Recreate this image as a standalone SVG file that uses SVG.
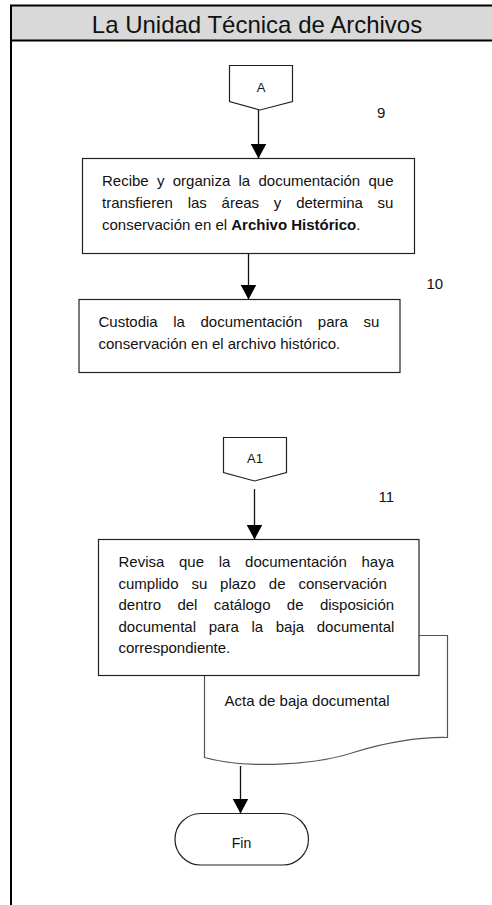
<svg xmlns="http://www.w3.org/2000/svg" width="492" height="905" viewBox="0 0 492 905">
<style>
text{font-family:"Liberation Sans",Arial,sans-serif;fill:#111;}
.t{font-size:15px;}
.num{font-size:15px;}
.box{fill:#fff;stroke:#222;stroke-width:1.2;}
.doc{fill:#fff;stroke:#555;stroke-width:1.2;}
.conn{fill:#fff;stroke:#222;stroke-width:1.2;}
.edge{stroke:#111;stroke-width:1.3;fill:none;marker-end:url(#ah);}
</style>
<defs>
<marker id="ah" viewBox="0 0 15 16" refX="15" refY="8" markerWidth="15" markerHeight="16" markerUnits="userSpaceOnUse" orient="auto">
<path d="M0,0 L15,8 L0,16 z" fill="#000"/>
</marker>
</defs>
<rect width="492" height="905" fill="#fff"/>
<g id="frame">
<rect x="11" y="5.5" width="490" height="35" fill="#d9d9d9" stroke="#000" stroke-width="2"/>
<line x1="11" y1="5" x2="11" y2="905" stroke="#000" stroke-width="2"/>
<text x="257" y="33" font-size="24" text-anchor="middle">La Unidad Técnica de Archivos</text>
</g>
<g id="connA">
<path class="conn" d="M229.5,65.5 H292.5 V101.5 L260,110 L229.5,101.5 Z"/>
<text x="261" y="91.5" font-size="13" text-anchor="middle">A</text>
</g>
<g id="step9">
<rect class="box" x="82.5" y="158.5" width="332" height="95"/>
<text class="t" x="102" y="186" word-spacing="4.1">Recibe y organiza la documentación que</text>
<text class="t" x="102" y="208" word-spacing="10.6">transfieren las áreas y determina su</text>
<text class="t" x="102" y="230">conservación en el <tspan font-weight="bold">Archivo Histórico</tspan>.</text>
</g>
<g id="step10">
<rect class="box" x="79" y="299.5" width="321" height="73"/>
<text class="t" x="98.5" y="327" word-spacing="11.4">Custodia la documentación para su</text>
<text class="t" x="98.5" y="349">conservación en el archivo histórico.</text>
</g>
<g id="connA1">
<path class="conn" d="M223.5,437.5 H286.5 V472.5 L254.5,481 L223.5,472.5 Z"/>
<text x="255" y="463" font-size="13" text-anchor="middle">A1</text>
</g>
<g id="doc">
<path class="doc" d="M204.5,675.5 V757.5 C250,770 320,764 355,752 C395,740 425,737 447.5,737.5 V635.5 H419"/>
<text class="t" x="224.5" y="706">Acta de baja documental</text>
</g>
<g id="step11">
<rect class="box" x="98.5" y="539.5" width="320.5" height="136"/>
<text class="t" x="118.5" y="567" word-spacing="10.5">Revisa que la documentación haya</text>
<text class="t" x="118.5" y="588.5" word-spacing="8.7">cumplido su plazo de conservación</text>
<text class="t" x="118.5" y="610" word-spacing="12.2">dentro del catálogo de disposición</text>
<text class="t" x="118.5" y="631.5" word-spacing="8.5">documental para la baja documental</text>
<text class="t" x="118.5" y="653">correspondiente.</text>
</g>
<g id="fin">
<rect class="box" x="175" y="813.5" width="133.5" height="51.5" rx="25.75" ry="25.75" stroke-width="1.5"/>
<text x="241.5" y="848" font-size="14" text-anchor="middle">Fin</text>
</g>
<g id="numbers">
<text class="num" x="377" y="118">9</text>
<text class="num" x="426.5" y="288.5">10</text>
<text class="num" x="378.5" y="501.5">11</text>
</g>
<g id="connectors">
<line class="edge" x1="258.5" y1="110" x2="258.5" y2="158.5"/>
<line class="edge" x1="248.5" y1="253.5" x2="248.5" y2="299.5"/>
<line class="edge" x1="254.5" y1="489" x2="254.5" y2="539.5"/>
<line class="edge" x1="240.5" y1="766" x2="240.5" y2="813.5"/>
</g>
</svg>
